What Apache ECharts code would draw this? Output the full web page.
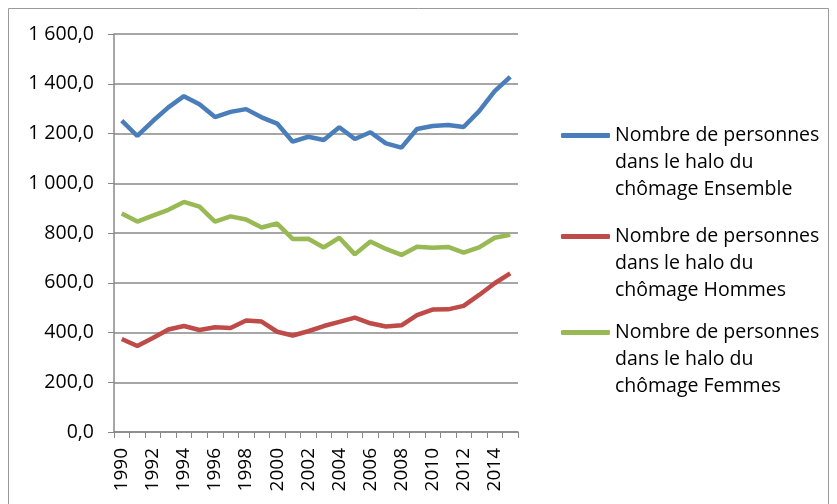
<!DOCTYPE html>
<html>
<head>
<meta charset="utf-8">
<script src="https://cdn.jsdelivr.net/npm/echarts@6/dist/echarts.min.js"></script>
<style>
  html, body { margin: 0; padding: 0; background: #fff; }
  #main { width: 837px; height: 504px; }
</style>
</head>
<body>
<div id="main"></div>
<script>
  let years = [];
  for (let y = 1990; y <= 2015; y++) years.push(String(y));

  let ensemble = [1252, 1190, 1250, 1305, 1350, 1318, 1266, 1287, 1298, 1265, 1240, 1167, 1187, 1174, 1225, 1178, 1205, 1160, 1143, 1218, 1230, 1234, 1226, 1290, 1370, 1428];
  let hommes = [374, 346, 378, 412, 426, 410, 421, 418, 448, 444, 403, 388, 405, 426, 443, 460, 437, 424, 429, 470, 492, 493, 507, 551, 598, 638];
  let femmes = [878, 846, 870, 893, 925, 906, 846, 867, 854, 822, 838, 776, 777, 742, 781, 714, 766, 736, 712, 745, 741, 744, 721, 742, 781, 793];

  let names = [
    'Nombre de personnes dans le halo du chômage Ensemble',
    'Nombre de personnes dans le halo du chômage Hommes',
    'Nombre de personnes dans le halo du chômage Femmes'
  ];
  let legendLines = {};
  legendLines[names[0]] = 'Nombre de personnes\ndans le halo du\nchômage Ensemble';
  legendLines[names[1]] = 'Nombre de personnes\ndans le halo du\nchômage Hommes';
  legendLines[names[2]] = 'Nombre de personnes\ndans le halo du\nchômage Femmes';

  let colors = ['#4A7EBB', '#BE4B48', '#98B954'];
  let fontName = 'Open Sans';

  let frLabel = (v) => {
    let s = String(Math.round(v));
    s = s.replace(/\B(?=(\d{3})+(?!\d))/g, ' ');
    return s + ',0';
  };

  // two empty lines first so the icon sits on the first text line
  let makeLegend = (name, top) => ({
    data: [name],
    left: 556,
    top: top,
    orient: 'vertical',
    itemWidth: 49,
    itemHeight: 5,
    icon: 'roundRect',
    selectedMode: false,
    formatter: (n) => ' \n \n' + legendLines[n],
    textStyle: {
      fontFamily: fontName,
      fontSize: 19.5,
      color: '#000',
      lineHeight: 27
    }
  });

  var myChart = echarts.init(document.getElementById('main'));

  var option = {
    animation: false,
    color: colors,
    graphic: [{
      type: 'rect',
      shape: { x: 8.5, y: 8.5, width: 820, height: 510 },
      style: { fill: 'none', stroke: '#999', lineWidth: 1 },
      silent: true
    }],
    legend: [
      makeLegend(names[0], 63),
      makeLegend(names[1], 164),
      makeLegend(names[2], 260)
    ],
    grid: {
      left: 114,
      right: 319,
      top: 34,
      bottom: 72
    },
    xAxis: {
      type: 'category',
      data: years,
      boundaryGap: true,
      axisLine: { lineStyle: { color: '#888', width: 1.5 } },
      axisTick: { show: true, interval: 0, length: 6, lineStyle: { color: '#888' } },
      axisLabel: {
        interval: 1,
        rotate: 90,
        margin: 16,
        fontFamily: fontName,
        fontSize: 19,
        color: '#000'
      },
      splitLine: { show: false }
    },
    yAxis: {
      type: 'value',
      min: 0,
      max: 1600,
      interval: 200,
      axisLine: { show: true, lineStyle: { color: '#888', width: 1.5 } },
      axisTick: { show: true, length: 6, lineStyle: { color: '#888' } },
      axisLabel: {
        formatter: frLabel,
        margin: 20,
        fontFamily: fontName,
        fontSize: 19.5,
        color: '#000'
      },
      splitLine: { lineStyle: { color: '#888', width: 1.5 } }
    },
    series: [
      { name: names[0], type: 'line', data: ensemble, showSymbol: false, lineStyle: { width: 4.5 } },
      { name: names[1], type: 'line', data: hommes, showSymbol: false, lineStyle: { width: 4.5 } },
      { name: names[2], type: 'line', data: femmes, showSymbol: false, lineStyle: { width: 4.5 } }
    ]
  };

  myChart.setOption(option);
</script>
</body>
</html>
